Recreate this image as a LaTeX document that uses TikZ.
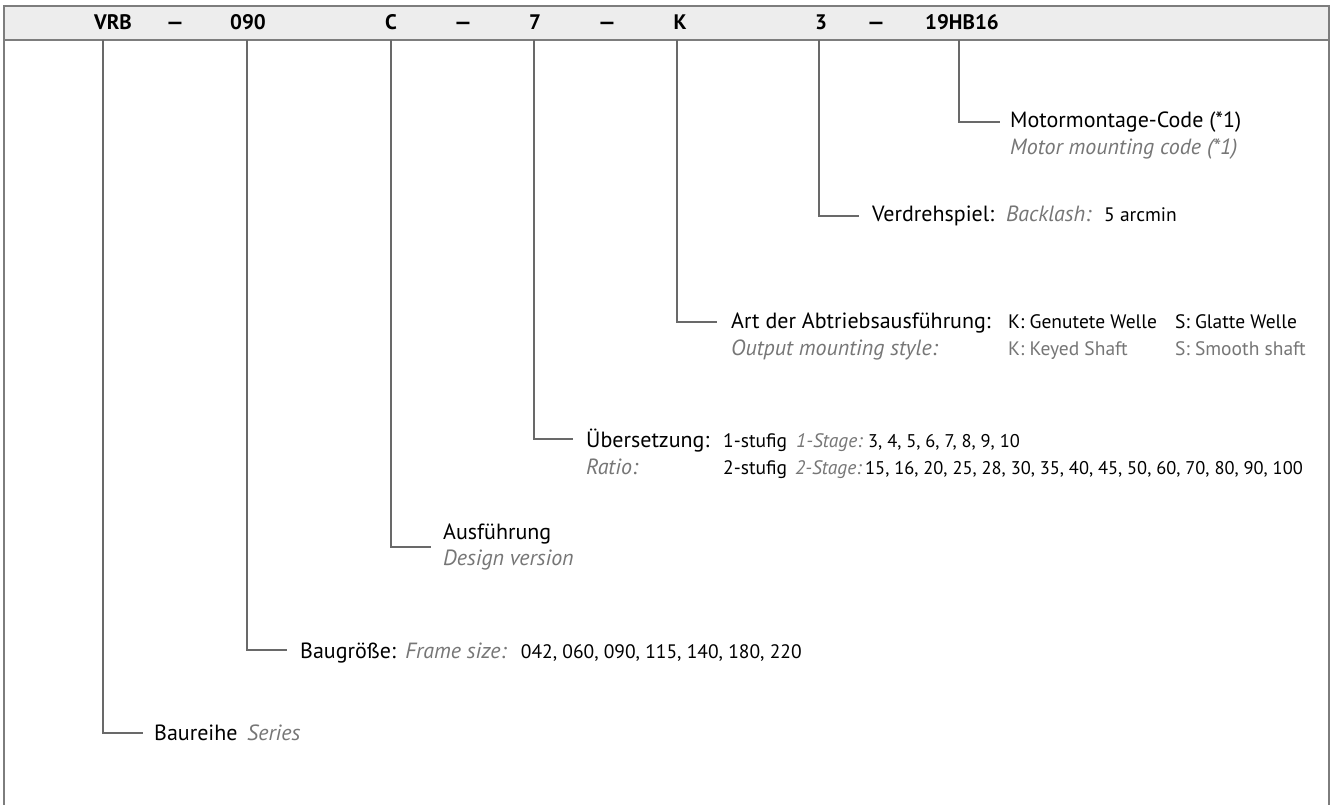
\documentclass[tikz,border=0pt]{standalone}
\usepackage{fontspec}
\setmainfont{PT Sans}
\definecolor{framegray}{RGB}{125,125,125}
\definecolor{linegray}{RGB}{105,105,105}
\definecolor{hdrfill}{RGB}{237,237,237}
\definecolor{engray}{RGB}{118,118,118}
\newcommand\labfont{\fontsize{22}{26}\selectfont}
\newcommand\valfont{\fontsize{19.5}{24}\selectfont}
\newcommand\numfont{\fontsize{18.4}{22}\selectfont}
\newcommand\hdrfont{\fontsize{21}{25}\selectfont\bfseries}
\newcommand\hdash{\scalebox{1.4}[1]{–}}
\tikzset{
  frame/.style={draw=framegray, line width=1.4pt},
  conn/.style={draw=linegray, line width=1.3pt},
  hdr/.style={anchor=base, inner sep=0pt, font=\hdrfont},
  lab/.style={anchor=base west, inner sep=0pt, font=\labfont},
  en/.style={anchor=base west, inner sep=0pt, font=\labfont\itshape, text=engray},
  val/.style={anchor=base west, inner sep=0pt, font=\valfont},
  num/.style={anchor=base west, inner sep=0pt, font=\numfont},
  valen/.style={anchor=base west, inner sep=0pt, font=\valfont\itshape, text=engray},
  valgray/.style={anchor=base west, inner sep=0pt, font=\valfont, text=engray}
}
\begin{document}
\begin{tikzpicture}[x=1pt,y=-1pt]
\useasboundingbox (0,0) rectangle (1332,805);
\begin{scope}
\clip (0,0) rectangle (1332,805);
\draw[frame, fill=white] (4,6) rectangle (1329,830);
\end{scope}
\filldraw[frame, fill=hdrfill] (4,6) rectangle (1329,40);

% header codes
\node[hdr] (hVRB) at (113,30) {VRB};
\node[hdr] (hd1) at (175,30) {\hdash};
\node[hdr] (h090) at (248,30) {090};
\node[hdr] (hC) at (391,30) {C};
\node[hdr] (hd2) at (463,30) {\hdash};
\node[hdr] (h7) at (535,30) {7};
\node[hdr] (hd3) at (607,30) {\hdash};
\node[hdr] (hK) at (680,30) {K};
\node[hdr] (h3) at (821,30) {3};
\node[hdr] (hd4) at (876,30) {\hdash};
\node[hdr] (h19) at (962,30) {19HB16};

% connector start and end points
\coordinate (sVRB) at (103,40);  \coordinate (eVRB) at (143,733);
\coordinate (s090) at (247,40);  \coordinate (e090) at (287,650);
\coordinate (sC)   at (391,40);  \coordinate (eC)   at (431,547);
\coordinate (s7)   at (534,40);  \coordinate (e7)   at (573,439);
\coordinate (sK)   at (677,40);  \coordinate (eK)   at (717,322);
\coordinate (s3)   at (819,40);  \coordinate (e3)   at (859,216);
\coordinate (s19)  at (959,40);  \coordinate (e19)  at (1000,122);

\draw[conn] (sVRB) |- (eVRB);
\draw[conn] (s090) |- (e090);
\draw[conn] (sC) |- (eC);
\draw[conn] (s7) |- (e7);
\draw[conn] (sK) |- (eK);
\draw[conn] (s3) |- (e3);
\draw[conn] (s19) |- (e19);

% Motormontage
\node[lab] (m1) at (1010,128) {Motormontage-Code (*1)};
\node[en]  (m2) at (1010,155) {Motor mounting code (*1)};

% Verdrehspiel
\node[lab] (v1) at (872,222) {Verdrehspiel:};
\node[en]  (v2) at (1006,222) {Backlash:};
\node[val] (v3) at (1104,222) {5 arcmin};

% Abtriebsausfuehrung
\node[lab] (a1) at (731,328) {Art der Abtriebsausführung:};
\node[val] (a2) at (1008,328) {K: Genutete Welle};
\node[val] (a3) at (1175,328) {S: Glatte Welle};
\node[en]  (a4) at (731,355) {Output mounting style:};
\node[valgray] (a5) at (1008,355) {K: Keyed Shaft};
\node[valgray] (a6) at (1175,355) {S: Smooth shaft};

% Uebersetzung
\node[lab]   (u1) at (586,447) {Übersetzung:};
\node[val]   (u2) at (723,447) {1-stufig};
\node[valen] (u3) at (796,447) {1-Stage:};
\node[num]   (u4) at (868,447) {3, 4, 5, 6, 7, 8, 9, 10};
\node[en]    (r1) at (586,474) {Ratio:};
\node[val]   (r2) at (723,474) {2-stufig};
\node[valen] (r3) at (795,474) {2-Stage:};
\node[num]   (r4) at (865,474) {15, 16, 20, 25, 28, 30, 35, 40, 45, 50, 60, 70, 80, 90, 100};

% Ausfuehrung
\node[lab] (d1) at (443,539) {Ausführung};
\node[en]  (d2) at (443,565) {Design version};

% Baugroesse
\node[lab] (b1) at (300,658) {Baugröße:};
\node[en]  (b2) at ([xshift=9pt]b1.base east) {Frame size:};
\node[val] (b3) at ([xshift=14pt]b2.base east) {042, 060, 090, 115, 140, 180, 220};

% Baureihe
\node[lab] (s1) at (154,740) {Baureihe};
\node[en]  (s2) at (247,740) {Series};
\end{tikzpicture}
\end{document}
